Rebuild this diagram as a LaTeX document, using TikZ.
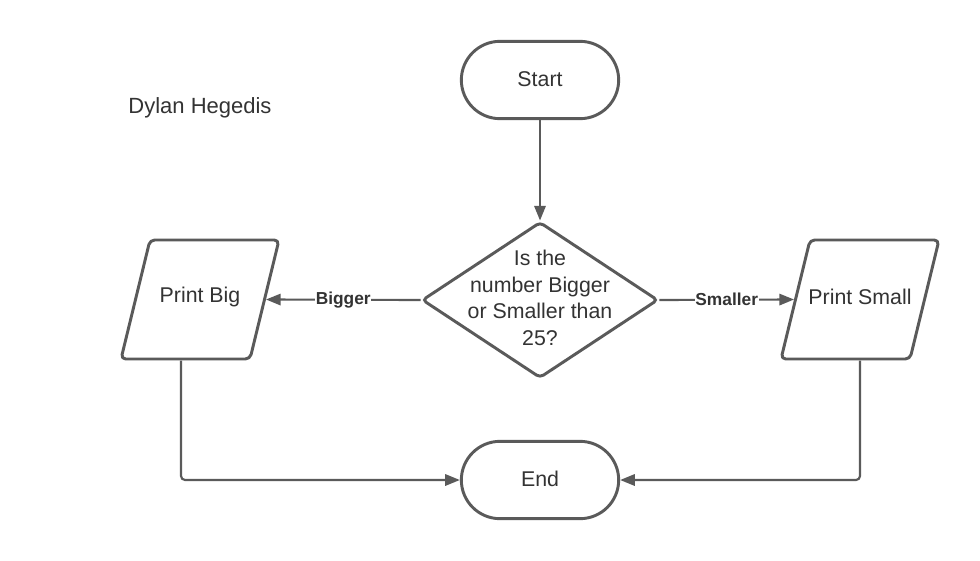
\documentclass[tikz,border=0pt]{standalone}
\usepackage{fontspec}
\setmainfont{Liberation Sans}
\usetikzlibrary{shapes.geometric,arrows.meta}
\definecolor{lc}{HTML}{5A5A5A}
\definecolor{tc}{HTML}{333333}
\tikzset{
  base/.style={draw=lc, line width=2.2pt, text=tc, font=\fontsize{16}{20}\selectfont, inner sep=0pt},
  term/.style={base, rectangle, rounded corners=29pt, minimum width=118pt, minimum height=58pt},
  dec/.style={base, diamond, rounded corners=3pt, minimum width=177pt, minimum height=117pt},
  ioshape/.style={draw=lc, line width=2.2pt, rounded corners=3.5pt, line join=round},
  conn/.style={draw=lc, line width=1.6pt, -{Triangle[length=11pt,width=8.5pt]}},
  lab/.style={fill=white, text=tc, font=\bfseries\fontsize{13}{15}\selectfont, inner sep=0.5pt},
  plain/.style={text=tc, font=\fontsize{16}{20}\selectfont, align=center},
  nametext/.style={text=tc, font=\fontsize{16.5}{20}\selectfont}
}
\begin{document}
\begin{tikzpicture}[x=0.75pt,y=-0.75pt]
\useasboundingbox[fill=white] (0,0) rectangle (980,560);
\node[nametext] (name) at (200,108) {Dylan Hegedis};
\node[term] (start) at (540,80) {\raisebox{2pt}{Start}};
\node[dec] (dec) at (540,300) {};
\node[plain] (dectext) at (540,298) {Is the\\number Bigger\\or Smaller than\\25?};
% parallelograms
\draw[ioshape] (121,359) -- (250,359) -- (279,240) -- (150,240) -- cycle;
\node[plain] (pb) at (200,297) {Print Big};
\draw[ioshape] (781,359) -- (910,359) -- (939,240) -- (810,240) -- cycle;
\node[plain] (ps) at (860,297) {Print Small};
\coordinate (pbE) at (266,299.5);
\coordinate (psW) at (794,299.5);
\node[term] (end) at (540,480) {\raisebox{2pt}{End}};
\coordinate (pbo) at (181,360.5);
\coordinate (pso) at (860,360.5);
\draw[conn] (start.south) -- (dec.north);
\draw[conn] (dec.west) -- node[lab] {Bigger} (pbE);
\draw[conn] (dec.east) -- node[lab] {Smaller} (psW);
\draw[conn, rounded corners=3pt] (pbo) |- (end.west);
\draw[conn, rounded corners=3pt] (pso) |- (end.east);
\end{tikzpicture}
\end{document}
